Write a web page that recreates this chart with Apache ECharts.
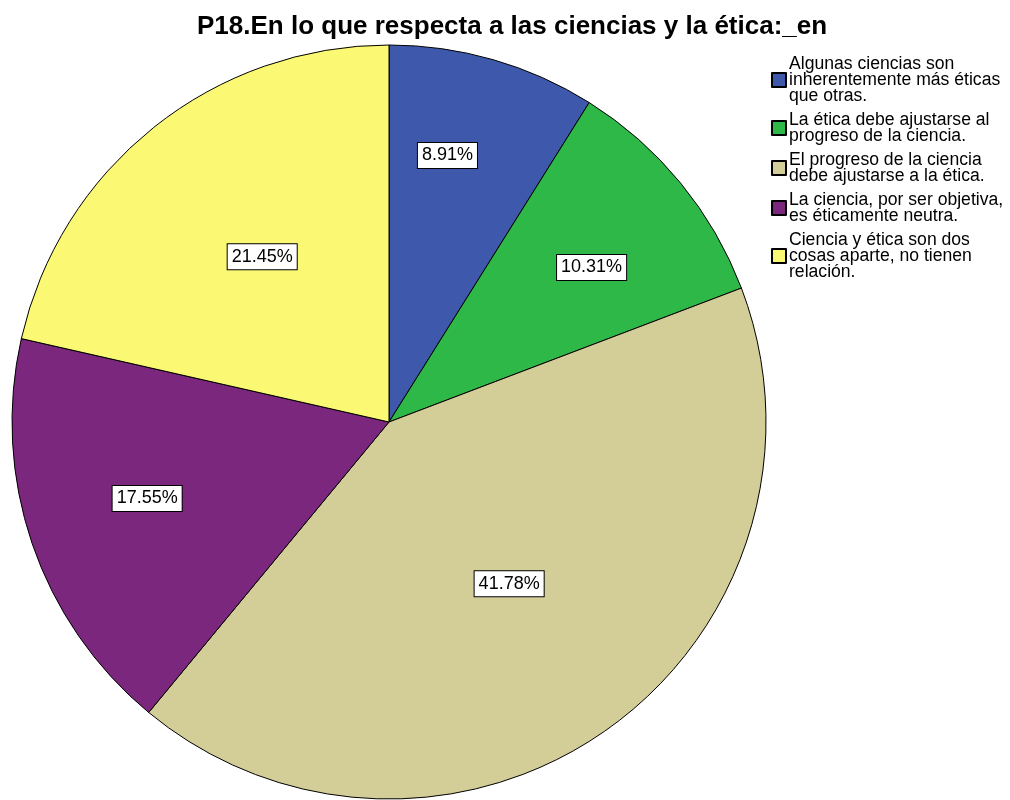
<!DOCTYPE html>
<html>
<head>
<meta charset="utf-8">
<script src="https://cdn.jsdelivr.net/npm/echarts@6/dist/echarts.min.js"></script>
<style>
  html, body { margin: 0; padding: 0; background: #fff; }
  #main { width: 1010px; height: 800px; }
</style>
</head>
<body>
<div id="main"></div>
<script>
var titleText = 'P18.En lo que respecta a las ciencias y la ética:_en';

var categories = [
    'Algunas ciencias son\ninherentemente más éticas\nque otras.',
    'La ética debe ajustarse al\nprogreso de la ciencia.',
    'El progreso de la ciencia\ndebe ajustarse a la ética.',
    'La ciencia, por ser objetiva,\nes éticamente neutra.',
    'Ciencia y ética son dos\ncosas aparte, no tienen\nrelación.'
];
var percents = [8.91, 10.31, 41.78, 17.55, 21.45];
var colors = ['#3E58AC', '#2EB848', '#D3CE97', '#7B277D', '#FBF873'];

// spss puts the labels unevenly: radius fraction and small turn (degrees, clockwise)
var labelDist = [0.72, 0.67, 0.52, 0.66, 0.55];
var labelTurn = [-3.8, 1.5, -1.5, 1.9, 1.6];

var CX = 389, CY = 422, R = 377;

var myChart = echarts.init(document.getElementById('main'));

var pieData = categories.map(function (name, i) {
    return {
        name: name,
        value: percents[i],
        itemStyle: { color: colors[i] }
    };
});

var option = {
    animation: false,
    title: {
        text: titleText,
        left: 192,
        top: 9,
        textStyle: {
            fontFamily: 'Liberation Sans, Arial, sans-serif',
            fontSize: 26,
            fontWeight: 'bold',
            color: '#000'
        }
    },
    legend: {
        orient: 'vertical',
        left: 766,
        top: 50,
        itemWidth: 14,
        itemHeight: 14,
        itemGap: 6,
        icon: 'rect',
        selectedMode: false,
        textStyle: {
            fontFamily: 'Liberation Sans, Arial, sans-serif',
            fontSize: 17.6,
            lineHeight: 16,
            color: '#000',
            padding: [0, 0, 0, -2]
        }
    },
    series: [{
        type: 'pie',
        center: [CX, CY],
        radius: [0, R],
        startAngle: 90,
        clockwise: true,
        silent: true,
        data: pieData,
        itemStyle: {
            borderColor: '#000',
            borderWidth: 1
        },
        label: {
            show: true,
            position: 'inside',
            formatter: function (p) { return p.value.toFixed(2) + '%'; },
            fontFamily: 'Liberation Sans, Arial, sans-serif',
            fontSize: 18,
            color: '#000',
            backgroundColor: '#fff',
            borderColor: '#000',
            borderWidth: 1,
            padding: [4, 4, 3, 4]
        },
        labelLine: { show: false },
        labelLayout: function (params) {
            var r = params.labelRect;
            var dx = r.x + r.width / 2 - CX;
            var dy = r.y + r.height / 2 - CY;
            var k = 2 * labelDist[params.dataIndex];
            var a = labelTurn[params.dataIndex] * Math.PI / 180;
            var rx = dx * Math.cos(a) - dy * Math.sin(a);
            var ry = dx * Math.sin(a) + dy * Math.cos(a);
            return {
                x: CX + k * rx,
                y: CY + k * ry + 3
            };
        }
    }]
};

myChart.setOption(option);
</script>
</body>
</html>
